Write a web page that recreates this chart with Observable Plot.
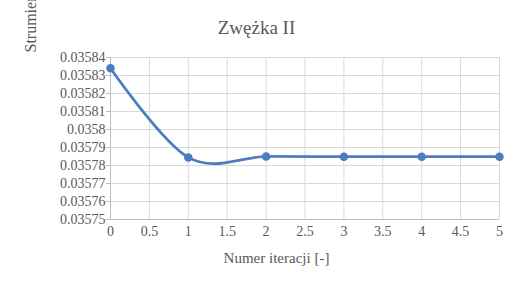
<!DOCTYPE html>
<html><head><meta charset="utf-8">
<script src="https://cdn.jsdelivr.net/npm/d3@7"></script>
<script src="https://cdn.jsdelivr.net/npm/@observablehq/plot@0.6"></script>
<style>body{margin:0;background:#fff} svg text{font-family:'Liberation Serif','DejaVu Serif',serif !important}</style>
</head><body><div id="chart"></div>
<script>
const title = "Zwężka II";
const xLabel = "Numer iteracji [-]";
const yLabel = "Strumień masy [kg/s]";
const iterations = [0, 1, 2, 3, 4, 5];
const flow = [0.035834, 0.0357845, 0.035785, 0.0357849, 0.0357849, 0.0357849];
const xTicks = [0, 0.5, 1, 1.5, 2, 2.5, 3, 3.5, 4, 4.5, 5];
const yTicks = [0.03575, 0.03576, 0.03577, 0.03578, 0.03579, 0.0358, 0.03581, 0.03582, 0.03583, 0.03584];

const data = iterations.map((x, i) => ({x, y: flow[i]}));
const txt = "#595959";
const blue = "#4a7ebf";
const font = "'Liberation Serif', 'DejaVu Serif', serif";

const chart = Plot.plot({
  width: 513, height: 288,
  marginLeft: 110, marginRight: 14, marginTop: 57, marginBottom: 69,
  style: {fontFamily: font, fontSize: "14px", color: txt, background: "#fff"},
  x: {domain: [0, 5], ticks: xTicks, tickFormat: d => String(d)},
  y: {domain: [0.03575, 0.03584], ticks: yTicks, tickFormat: d => String(+d.toFixed(5))},
  marks: [
    Plot.gridX(xTicks, {stroke: "#d9d9d9", strokeOpacity: 1}),
    Plot.gridY(yTicks, {stroke: "#d9d9d9", strokeOpacity: 1}),
    Plot.ruleY([0.03575], {stroke: "#bfbfbf"}),
    Plot.ruleX([0], {stroke: "#bfbfbf"}),
    Plot.axisY({ticks: yTicks, tickSize: 4, tickPadding: 1, stroke: "#bfbfbf", fill: txt, fontSize: 14, fontFamily: font, fontVariant: "normal", label: null, tickFormat: d => String(+d.toFixed(5))}),
    Plot.axisX({ticks: xTicks, tickSize: 0, tickPadding: 7, fill: txt, fontSize: 14, fontFamily: font, fontVariant: "normal", label: null, tickFormat: d => String(d)}),
    Plot.line(data, {x: "x", y: "y", curve: "cardinal", tension: 0, stroke: blue, strokeWidth: 2.75}),
    Plot.dot(data, {x: "x", y: "y", r: 3.5, fill: blue, stroke: blue}),
    Plot.text([title], {frameAnchor: "top-left", dx: 256 - 110, dy: -30, fontSize: 19, fill: txt, textAnchor: "middle", lineAnchor: "middle"}),
    Plot.text([xLabel], {frameAnchor: "bottom-left", dx: 276 - 110, dy: 39, fontSize: 15, fill: txt, textAnchor: "middle", lineAnchor: "middle"}),
    Plot.text([yLabel], {frameAnchor: "top-left", dx: 30 - 110, dy: 52 - 57, rotate: -90, fontSize: 16, fill: txt, textAnchor: "start", lineAnchor: "middle"})
  ]
});
document.getElementById("chart").appendChild(chart);
</script>
</body></html>
